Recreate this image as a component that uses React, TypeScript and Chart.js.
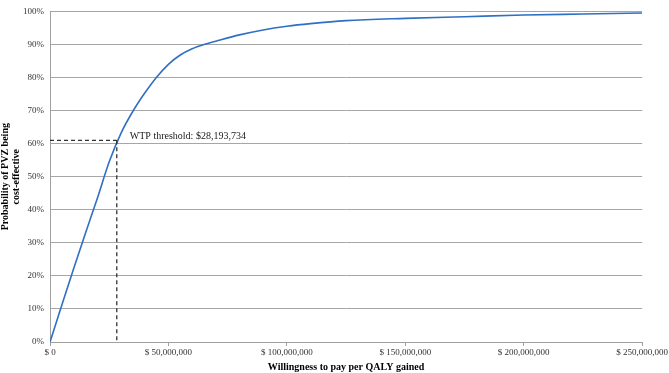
import React, { useEffect, useRef } from 'react';
import { Chart, registerables } from 'chart.js';

Chart.register(...registerables);

// Willingness to pay (millions of $) and probability cost-effective (%)
const wtpMillions = [0, 5, 10, 15, 20, 25, 30, 35, 40, 45, 50, 55, 60, 65, 70, 80, 90, 100, 110, 125, 150, 175, 200, 225, 250];
const probability = [0, 11.2, 22.2, 33, 43.5, 54.5, 63.2, 69.8, 75.3, 80.1, 84, 86.8, 88.7, 90, 91, 92.9, 94.4, 95.5, 96.3, 97.2, 97.9, 98.4, 98.9, 99.2, 99.5];

const thresholdValue = 28193734;
const thresholdProb = 61;
const thresholdLabel = 'WTP threshold: $28,193,734';

const xTitle = 'Willingness to pay per QALY gained';
const yTitle = ['Probability of PVZ being', 'cost-effective'];

const FONT = '"Liberation Serif", "Times New Roman", serif';

const thresholdPlugin = {
  id: 'thresholdPlugin',
  afterDatasetsDraw(chart: any) {
    const { ctx, scales } = chart;
    const xs = scales.x;
    const ys = scales.y;
    const px = xs.getPixelForValue(thresholdValue);
    const py = ys.getPixelForValue(thresholdProb);
    const x0 = xs.getPixelForValue(0);
    const y0 = ys.getPixelForValue(0);
    ctx.save();
    ctx.strokeStyle = '#333333';
    ctx.lineWidth = 1.3;
    ctx.setLineDash([4, 3]);
    ctx.beginPath();
    ctx.moveTo(x0, py);
    ctx.lineTo(px, py);
    ctx.moveTo(px, py);
    ctx.lineTo(px, y0);
    ctx.stroke();
    ctx.setLineDash([]);
    ctx.fillStyle = '#1a1a1a';
    ctx.font = `10px ${FONT}`;
    ctx.textBaseline = 'alphabetic';
    ctx.textAlign = 'left';
    ctx.fillText(thresholdLabel, px + 13, py - 1);
    ctx.restore();
  },
};

export default function App() {
  const canvasRef = useRef<HTMLCanvasElement | null>(null);

  useEffect(() => {
    document.body.style.margin = '0';
    const canvas = canvasRef.current;
    if (!canvas) return;
    const points = wtpMillions.map((m, i) => ({ x: m * 1e6, y: probability[i] }));
    const chart = new Chart(canvas, {
      type: 'line',
      data: {
        datasets: [
          {
            data: points,
            borderColor: '#2f6fc4',
            borderWidth: 1.6,
            pointRadius: 0,
            cubicInterpolationMode: 'monotone',
            fill: false,
          },
        ],
      },
      options: {
        animation: false,
        responsive: false,
        maintainAspectRatio: false,
        layout: { padding: { top: 3, right: 0, left: 0, bottom: 0 } },
        plugins: {
          legend: { display: false },
          tooltip: { enabled: false },
        },
        scales: {
          x: {
            type: 'linear',
            min: 0,
            max: 250e6,
            border: { color: '#a0a0a0', width: 1 },
            grid: { drawOnChartArea: false, drawTicks: true, tickLength: 4, color: '#a0a0a0' },
            ticks: {
              stepSize: 50e6,
              maxRotation: 0,
              padding: 1,
              color: '#333333',
              font: { family: FONT, size: 9 },
              callback: (v: any) => '$ ' + Number(v).toLocaleString('en-US'),
            },
            title: {
              display: true,
              text: xTitle,
              color: '#000000',
              padding: { top: 0, bottom: 0 },
              font: { family: FONT, size: 10, weight: 'bold' },
            },
            afterFit: (scale: any) => {
              scale.height = 31;
            },
          },
          y: {
            min: 0,
            max: 100,
            border: { color: '#a0a0a0', width: 1 },
            grid: { color: '#a6a6a6', drawTicks: false, lineWidth: 1 },
            ticks: {
              stepSize: 10,
              padding: 6,
              color: '#333333',
              font: { family: FONT, size: 9 },
              callback: (v: any) => v + '%',
            },
            title: {
              display: true,
              text: yTitle,
              color: '#000000',
              padding: { top: 0, bottom: 0 },
              font: { family: FONT, size: 10, weight: 'bold', lineHeight: 1.1 },
            },
            afterFit: (scale: any) => {
              scale.width = 50;
            },
          },
        },
      },
      plugins: [thresholdPlugin],
    } as any);
    return () => chart.destroy();
  }, []);

  return (
    <div style={{ width: 669, height: 373 }}>
      <canvas ref={canvasRef} width={669} height={373} style={{ display: 'block' }} />
    </div>
  );
}
